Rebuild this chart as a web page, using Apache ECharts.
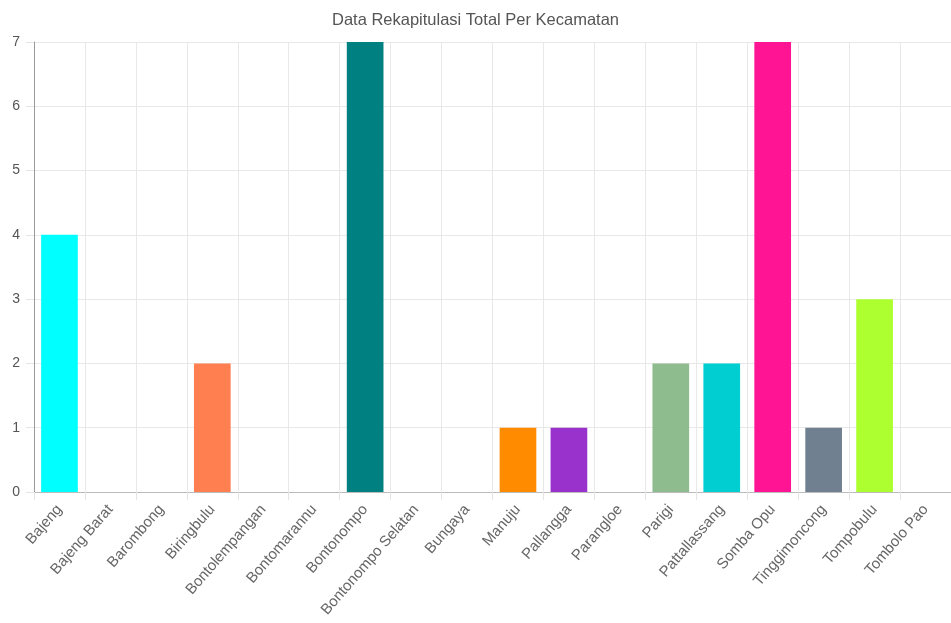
<!DOCTYPE html>
<html><head><meta charset="utf-8">
<script src="https://cdn.jsdelivr.net/npm/echarts@6/dist/echarts.min.js"></script>
<style>html,body{margin:0;padding:0;background:#fff}#c{width:951px;height:623px}</style>
</head><body><div id="c"></div>
<script>
const categories = ["Bajeng","Bajeng Barat","Barombong","Biringbulu","Bontolempangan","Bontomarannu","Bontonompo","Bontonompo Selatan","Bungaya","Manuju","Pallangga","Parangloe","Parigi","Pattallassang","Somba Opu","Tinggimoncong","Tompobulu","Tombolo Pao"];
const values = [4,0,0,2,0,0,7,0,0,1,1,0,2,2,7,1,3,0];
const colors = ["#00FFFF","#7FFFD4","#F0F8FF","#FF7F50","#DC143C","#B8860B","#008080","#A9A9A9","#BDB76B","#FF8C00","#9932CC","#E9967A","#8FBC8F","#00CED1","#FF1493","#708090","#ADFF2F","#FFD700"];
const yTicks = [0,1,2,3,4,5,6,7];

const chart = echarts.init(document.getElementById('c'));
chart.setOption({
  animation:false,
  title:{text:'Data Rekapitulasi Total Per Kecamatan',left:'center',top:7,
    textStyle:{fontSize:16.5,fontWeight:'normal',color:'#555',fontFamily:'Arial, Liberation Sans, sans-serif'}},
  grid:{left:34,right:0,top:42,bottom:131,containLabel:false},
  xAxis:{type:'category',data:categories,
    axisLine:{show:true,lineStyle:{color:'#bbb'}},
    axisTick:{show:true,alignWithLabel:false,length:8,lineStyle:{color:'#e5e5e5'}},
    splitLine:{show:true,lineStyle:{color:'#e8e8e8'}},
    axisLabel:{rotate:49,color:'#666',fontSize:15,margin:15,interval:0,fontFamily:'Arial, Liberation Sans, sans-serif'}},
  yAxis:{type:'value',min:yTicks[0],max:yTicks[yTicks.length-1],interval:1,
    axisLine:{show:true,lineStyle:{color:'#999'}},
    axisTick:{show:true,length:8,lineStyle:{color:'#e5e5e5'}},
    splitLine:{show:true,lineStyle:{color:'#e8e8e8'}},
    axisLabel:{color:'#555',fontSize:14,margin:14,fontFamily:'Arial, Liberation Sans, sans-serif'}},
  series:[{type:'bar',barWidth:'72%',
    data:values.map((v,i)=>({value:v,itemStyle:{color:colors[i]}}))}]
});
</script></body></html>
